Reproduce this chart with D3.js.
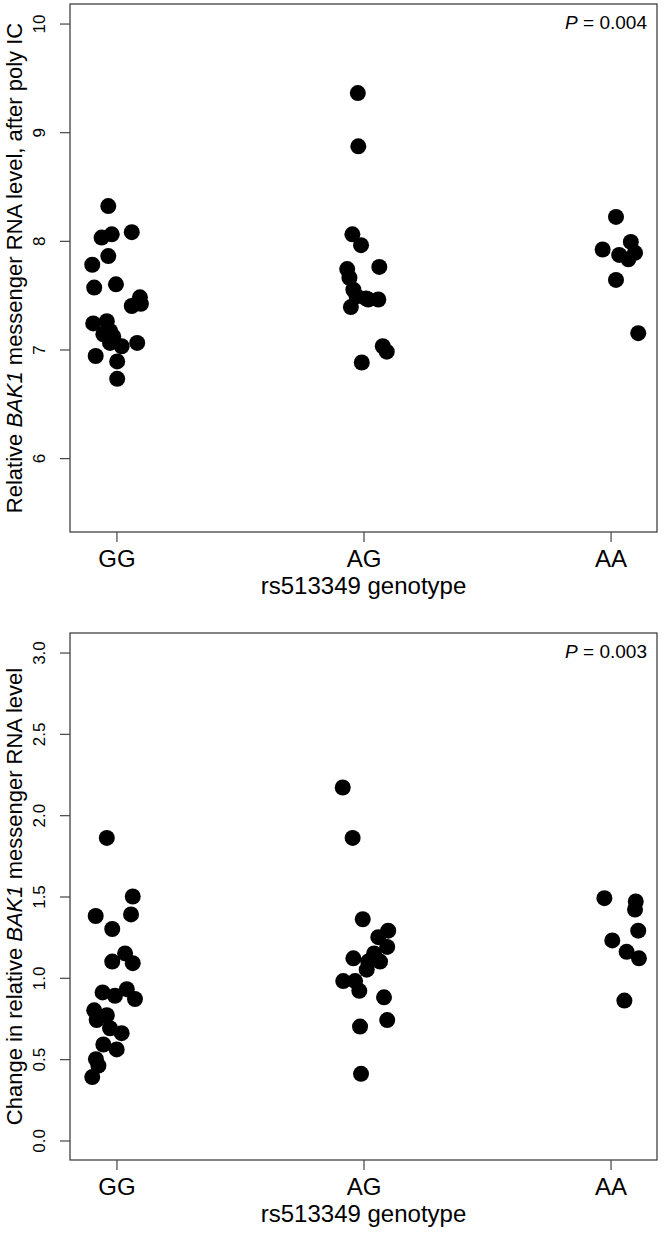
<!DOCTYPE html>
<html><head><meta charset="utf-8">
<script src="https://cdn.jsdelivr.net/npm/d3@7"></script>
<style>body{margin:0;background:#fff}svg{display:block}text{font-family:"Liberation Sans",Arial,sans-serif;fill:#000}</style>
</head><body><svg id="c" width="664" height="1234"></svg>
<script>
const genotypes = ["GG","AG","AA"];
const xTitle = "rs513349 genotype";

// Panel 1: relative BAK1 mRNA level after poly IC
const topTicks = [6,7,8,9,10];
const topGG = [8.32,8.03,8.06,8.08,7.86,7.78,7.57,7.60,7.48,7.40,7.42,7.24,7.26,7.17,7.14,7.12,7.06,7.03,7.06,6.94,6.89,6.73];
const topGGjit = [-0.033,-0.060,-0.019,0.062,-0.033,-0.098,-0.090,-0.002,0.095,0.062,0.099,-0.094,-0.039,-0.026,-0.053,-0.013,-0.026,0.021,0.084,-0.084,0.003,0.003];
const topAG = [9.36,8.87,8.06,7.96,7.76,7.74,7.66,7.55,7.49,7.46,7.46,7.39,7.03,6.98,6.88,7.47];
const topAGjit = [-0.023,-0.021,-0.045,-0.010,0.064,-0.066,-0.057,-0.041,-0.028,0.019,0.060,-0.051,0.078,0.094,-0.007,0.010];
const topAA = [8.22,7.92,7.99,7.87,7.89,7.83,7.64,7.15];
const topAAjit = [0.022,-0.032,0.082,0.035,0.099,0.072,0.022,0.112];
const topP = "0.004";

// Panel 2: change in relative BAK1 mRNA level
const botTicks = [0.0,0.5,1.0,1.5,2.0,2.5,3.0];
const botGG = [1.86,1.50,1.38,1.39,1.30,1.15,1.10,1.09,0.91,0.89,0.93,0.87,0.80,0.77,0.74,0.69,0.66,0.56,0.59,0.50,0.46,0.39];
const botGGjit = [-0.039,0.066,-0.084,0.059,-0.017,0.035,-0.017,0.066,-0.056,-0.006,0.042,0.075,-0.090,-0.039,-0.080,-0.026,0.021,0.001,-0.053,-0.083,-0.073,-0.098];
const botAG = [2.17,1.86,1.36,1.29,1.25,1.19,1.15,1.10,1.12,1.10,1.05,0.98,0.98,0.92,0.88,0.70,0.74,0.41];
const botAGjit = [-0.084,-0.044,-0.003,0.100,0.060,0.096,0.043,0.067,-0.041,0.019,0.013,-0.082,-0.034,-0.017,0.083,-0.014,0.096,-0.010];
const botAA = [1.49,1.47,1.42,1.29,1.23,1.16,1.12,0.86];
const botAAjit = [-0.025,0.102,0.099,0.112,0.007,0.065,0.115,0.056];
const botP = "0.003";

const svg = d3.select("#c");
const L = 70, R = 657;
const x = d3.scaleLinear().domain([0.812, 3.188]).range([L, R]);

function panel(top, bottom, yDomain, ticks, fmt, series, pval, titleParts) {
  const y = d3.scaleLinear().domain(yDomain).range([bottom, top]);
  const g = svg.append("g");
  series.forEach((s, i) => {
    g.selectAll(null).data(s.v).enter().append("circle")
      .attr("cx", (d, j) => x(i + 1 + s.j[j]))
      .attr("cy", d => y(d))
      .attr("r", 8).attr("fill", "#000");
  });
  g.append("rect").attr("x", L).attr("y", top).attr("width", R - L).attr("height", bottom - top)
    .attr("fill", "none").attr("stroke", "#333").attr("stroke-width", 1.2);
  const ya = d3.axisLeft(y).tickValues(ticks).tickSize(10).tickFormat(fmt);
  const yg = g.append("g").attr("transform", `translate(${L},0)`).call(ya);
  yg.select(".domain").remove();
  yg.selectAll(".tick line").attr("stroke", "#444").attr("stroke-width", 1.2);
  yg.selectAll(".tick text").attr("x", 0).attr("dy", 0).attr("text-anchor", "middle")
    .attr("transform", "translate(-25,0) rotate(-90)").attr("font-size", 17)
    .attr("font-family", '"Liberation Sans",Arial,sans-serif').attr("fill", "#000");
  const xa = d3.axisBottom(x).tickValues([1,2,3]).tickSize(10).tickFormat((d) => genotypes[d - 1]);
  const xg = g.append("g").attr("transform", `translate(0,${bottom})`).call(xa);
  xg.select(".domain").remove();
  xg.selectAll(".tick line").attr("stroke", "#444").attr("stroke-width", 1.2);
  xg.selectAll(".tick text").attr("y", 35).attr("dy", 0).attr("font-size", 24)
    .attr("font-family", '"Liberation Sans",Arial,sans-serif').attr("fill", "#000");
  g.append("text").attr("x", (L + R) / 2).attr("y", bottom + 62).attr("text-anchor", "middle")
    .attr("font-size", 24).text(xTitle);
  const t = g.append("text").attr("transform", `translate(22,${(top + bottom) / 2}) rotate(-90)`)
    .attr("text-anchor", "middle").attr("font-size", 22);
  t.append("tspan").text(titleParts[0]);
  t.append("tspan").attr("font-style", "italic").text(titleParts[1]);
  t.append("tspan").text(titleParts[2]);
  const p = g.append("text").attr("x", 647).attr("y", top + 25).attr("text-anchor", "end").attr("font-size", 19);
  p.append("tspan").attr("font-style", "italic").text("P");
  p.append("tspan").text(" = " + pval);
}

panel(4, 532, [5.32, 10.18], topTicks, d3.format("d"),
  [{v: topGG, j: topGGjit}, {v: topAG, j: topAGjit}, {v: topAA, j: topAAjit}], topP,
  ["Relative ", "BAK1", " messenger RNA level, after poly IC"]);
panel(633, 1160, [-0.12, 3.12], botTicks, d3.format(".1f"),
  [{v: botGG, j: botGGjit}, {v: botAG, j: botAGjit}, {v: botAA, j: botAAjit}], botP,
  ["Change in relative ", "BAK1", " messenger RNA level"]);
</script></body></html>
